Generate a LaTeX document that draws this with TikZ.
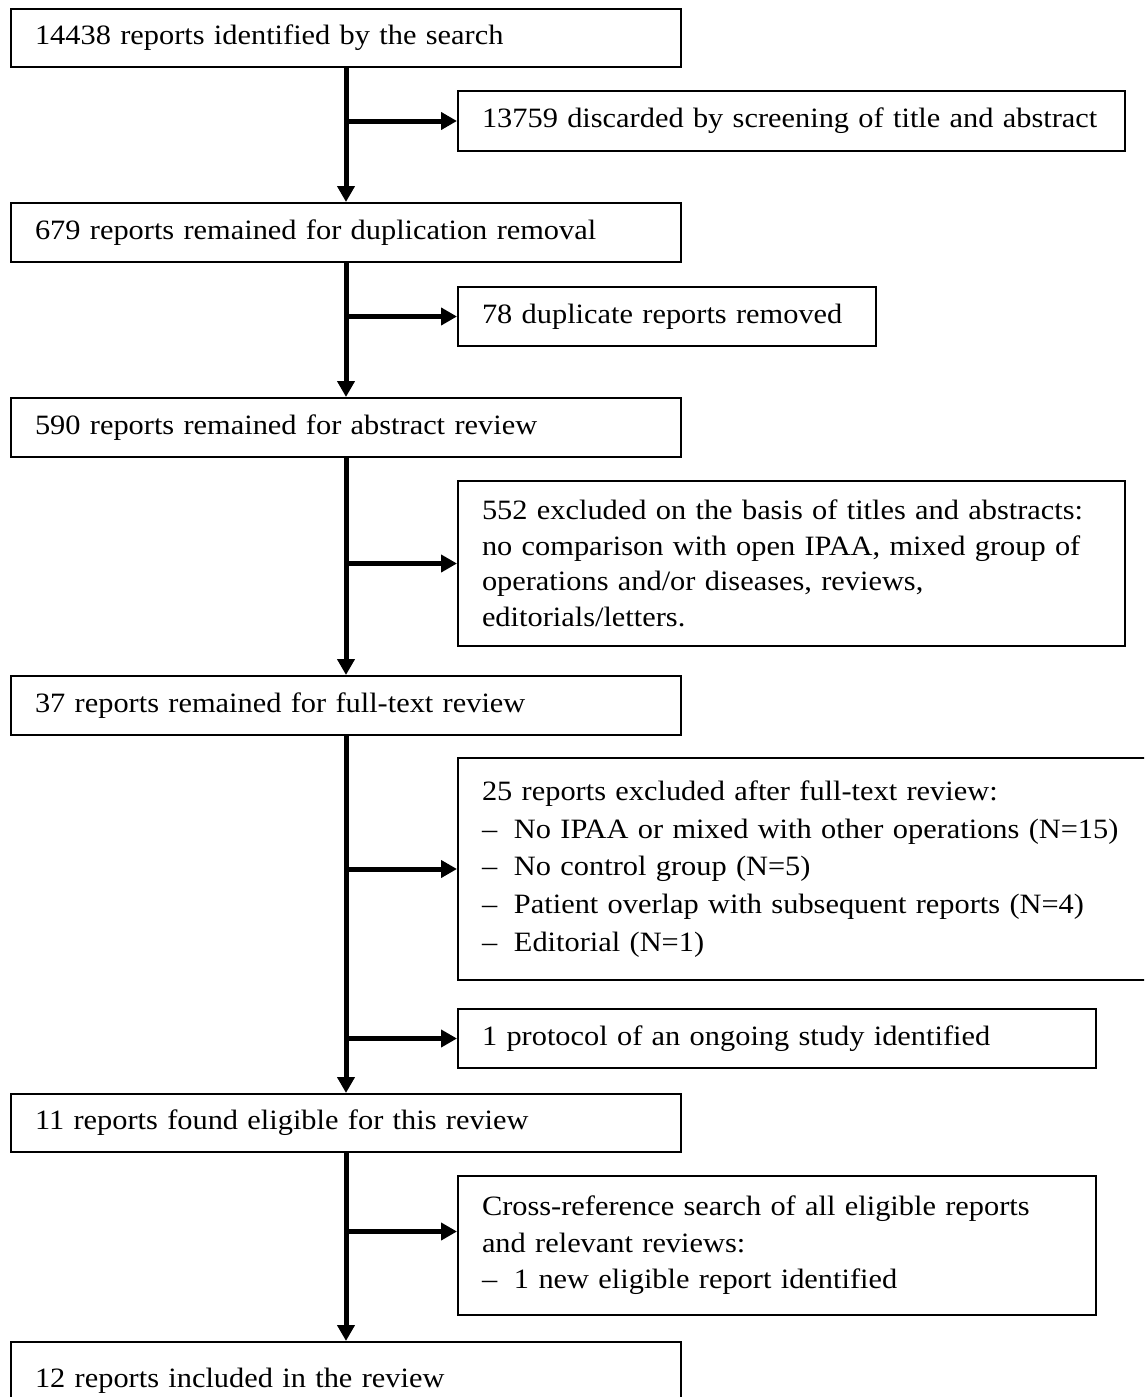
\documentclass[tikz,border=0pt]{standalone}
\usepackage{fontspec}
\setmainfont{Liberation Serif}[FakeStretch=1.085]
\usetikzlibrary{arrows.meta}
\newcommand\ffs[1]{\fontsize{28}{#1}\selectfont}
\newcommand\bul{\makebox[32pt][l]{--}}
\begin{document}
\begin{tikzpicture}[x=1pt,y=-1pt,
  box/.style={draw, line width=2pt, anchor=north west, inner xsep=24pt, inner ysep=0pt,
    align=left, font=\ffs{36}},
  lbox/.style={box, text width=622pt, minimum width=670pt},
  arr/.style={line width=5pt, -{Triangle[length=16pt,width=17pt]}}
]
\useasboundingbox (0,0) rectangle (1144,1397);
\clip (0,0) rectangle (1144,1397);

% left column
\node[lbox, minimum height=58pt] (b1) at (10,8) {14438 reports identified by the search};
\node[lbox, minimum height=59pt] (b2) at (10,202) {679 reports remained for duplication removal};
\node[lbox, minimum height=59pt] (b3) at (10,397) {590 reports remained for abstract review};
\node[lbox, minimum height=59pt] (b4) at (10,675) {37 reports remained for full-text review};
\node[lbox, minimum height=58pt] (b5) at (10,1093) {11 reports found eligible for this review};
\node[lbox, minimum height=90pt] (b6) at (10,1341) {\\[-30pt]12 reports included in the review};

% right column
\node[box, text width=619pt, minimum height=60pt] (r1) at (457,90) {\mbox{13759 discarded by screening of title and abstract}};
\node[box, text width=370pt, minimum height=59pt] (r2) at (457,286) {78 duplicate reports removed};
\node[box, text width=619pt, minimum height=165pt, font=\ffs{35.5}] (r3) at (457,480)
  {552 excluded on the basis of titles and abstracts:\\
   no comparison with open IPAA, mixed group of\\
   operations and/or diseases, reviews,\\
   editorials/letters.};
\node[box, text width=672pt, minimum height=222pt, font=\ffs{37.7}] (r4) at (457,757)
  {25 reports excluded after full-text review:\\
   \bul No IPAA or mixed with other operations (N=15)\\
   \bul No control group (N=5)\\
   \bul Patient overlap with subsequent reports (N=4)\\
   \bul Editorial (N=1)\\[12pt]};
\node[box, text width=590pt, minimum height=59pt] (r5) at (457,1008) {1 protocol of an ongoing study identified};
\node[box, text width=590pt, minimum height=139pt, font=\ffs{36.5}] (r6) at (457,1175)
  {Cross-reference search of all eligible reports\\
   and relevant reviews:\\
   \bul 1 new eligible report identified};

% main flow
\draw[arr] (b1.south) -- (b2.north);
\draw[arr] (b2.south) -- (b3.north);
\draw[arr] (b3.south) -- (b4.north);
\draw[arr] (b4.south) -- (b5.north);
\draw[arr] (b5.south) -- (b6.north);

% side branches
\draw[arr] (b1.south |- r1.west) -- (r1.west);
\draw[arr] (b2.south |- r2.west) -- (r2.west);
\draw[arr] (b3.south |- r3.west) -- (r3.west);
\draw[arr] (b4.south |- r4.west) -- (r4.west);
\draw[arr] (b4.south |- r5.west) -- (r5.west);
\coordinate (r6in) at ([yshift=14pt]r6.west);
\draw[arr] (b5.south |- r6in) -- (r6in);
\end{tikzpicture}
\end{document}
